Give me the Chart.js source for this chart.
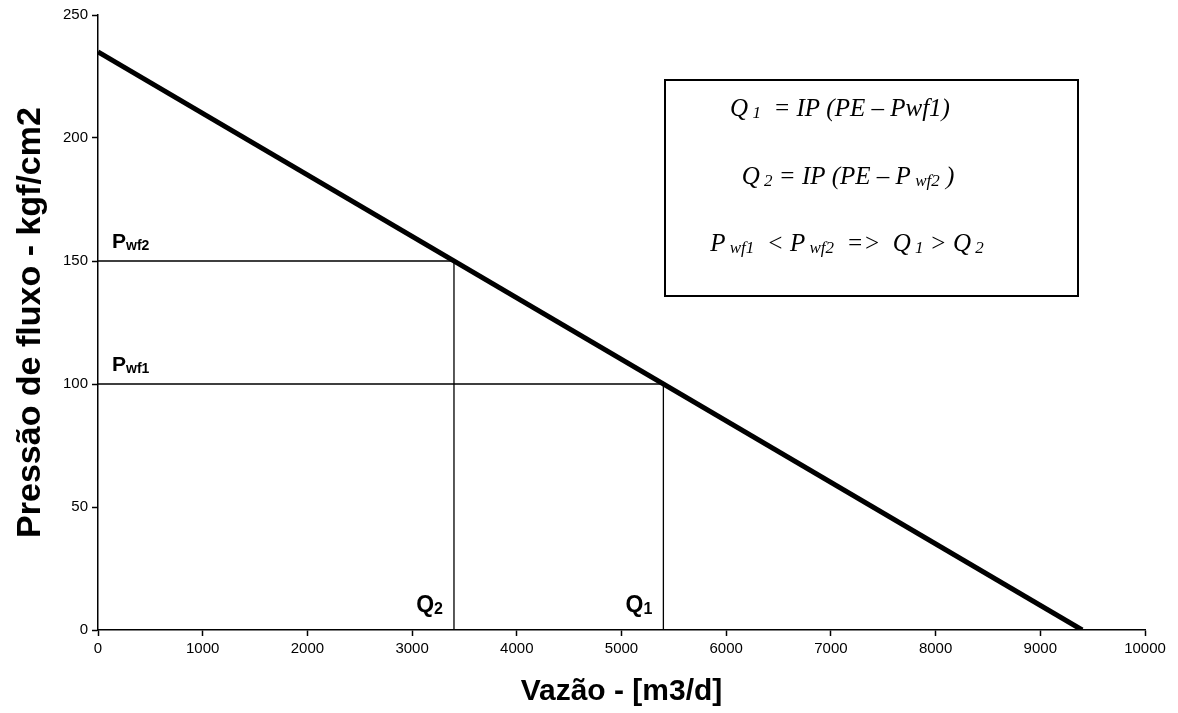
<!DOCTYPE html>
<html>
<head>
<meta charset="utf-8">
<script src="https://cdn.jsdelivr.net/npm/chart.js@4/dist/chart.umd.min.js"></script>
<style>
  html, body { margin: 0; padding: 0; background: #fff; }
  canvas { display: block; }
</style>
</head>
<body>
<canvas id="ipr" width="1178" height="713"></canvas>
<script>
// curva IPR (reta)
const iprFlow = [0, 9400];
const iprPressure = [235, 0];

// pontos de operacao
const opFlow = [5400, 3400];
const opPressure = [100, 150];
const opPLabels = ['wf1', 'wf2'];
const opQLabels = ['1', '2'];

const xMin = 0, xMax = 10000, xStep = 1000;
const yMin = 0, yMax = 250, yStep = 50;

// caixa de equacoes: cada linha e uma lista de [texto, subscrito?]
const boxLines = [
  [['Q', 0], [' 1', 1], ['  = IP (PE \u2013 Pwf1)', 0]],
  [['Q', 0], [' 2', 1], [' = IP (PE \u2013 P', 0], [' wf2', 1], [' )', 0]],
  [['P', 0], [' wf1', 1], ['  < P', 0], [' wf2', 1], ['  =>  Q', 0], [' 1', 1], [' > Q', 0], [' 2', 1]]
];

function toPoints(xs, ys) {
  return xs.map((x, i) => ({ x: x, y: ys[i] }));
}

const datasets = [{
  data: toPoints(iprFlow, iprPressure),
  showLine: true,
  borderColor: '#000',
  borderWidth: 5,
  pointRadius: 0
}];
for (let i = 0; i < opFlow.length; i++) {
  datasets.push({
    data: [{ x: 0, y: opPressure[i] }, { x: opFlow[i], y: opPressure[i] }, { x: opFlow[i], y: 0 }],
    showLine: true,
    borderColor: '#000',
    borderWidth: 1.3,
    pointRadius: 0
  });
}

function drawRich(ctx, parts, x, y, size, family, style, align) {
  const fonts = parts.map(p => style + ' ' + (p[1] ? Math.round(size * 0.68) : size) + 'px ' + family);
  let total = 0;
  const widths = parts.map((p, i) => { ctx.font = fonts[i]; const w = ctx.measureText(p[0]).width; total += w; return w; });
  let cx = align === 'center' ? x - total / 2 : (align === 'right' ? x - total : x);
  ctx.textAlign = 'left';
  ctx.textBaseline = 'alphabetic';
  parts.forEach((p, i) => {
    ctx.font = fonts[i];
    ctx.fillText(p[0], cx, y + (p[1] ? 2 : 0));
    cx += widths[i];
  });
}

const labelsPlugin = {
  id: 'labels',
  afterDatasetsDraw(chart) {
    const ctx = chart.ctx;
    const xs = chart.scales.x, ys = chart.scales.y;
    ctx.save();
    ctx.fillStyle = '#000';
    for (let i = 0; i < opFlow.length; i++) {
      drawRich(ctx, [['P', 0], [opPLabels[i], 1]],
        xs.getPixelForValue(0) + 14, ys.getPixelForValue(opPressure[i]) - 13, 21, '"Liberation Sans", Arial, sans-serif', 'bold', 'left');
      drawRich(ctx, [['Q', 0], [opQLabels[i], 1]],
        xs.getPixelForValue(opFlow[i]) - 11, ys.getPixelForValue(0) - 18, 23, '"Liberation Sans", Arial, sans-serif', 'bold', 'right');
    }
    // caixa
    const bx = 665, by = 80, bw = 413, bh = 216;
    ctx.lineWidth = 2;
    ctx.strokeStyle = '#000';
    ctx.strokeRect(bx, by, bw, bh);
    const baselines = [116, 184, 251];
    const centers = [840, 848, 847];
    boxLines.forEach((line, i) => {
      drawRich(ctx, line, centers[i], baselines[i], 25, '"Liberation Serif", "Times New Roman", serif', 'italic', 'center');
    });
    ctx.restore();
  }
};

const tickFont = { size: 15, family: '"Liberation Sans", Arial, sans-serif' };

new Chart(document.getElementById('ipr').getContext('2d'), {
  type: 'scatter',
  data: { datasets: datasets },
  plugins: [labelsPlugin],
  options: {
    responsive: false,
    animation: false,
    layout: { padding: { left: 0, right: 33, top: 15, bottom: 0 } },
    plugins: { legend: { display: false }, tooltip: { enabled: false } },
    scales: {
      x: {
        type: 'linear', min: xMin, max: xMax,
        ticks: { stepSize: xStep, color: '#000', padding: 4, maxRotation: 0, font: tickFont,
          callback: v => String(v) },
        grid: { drawOnChartArea: false, tickLength: 6, tickColor: '#000', tickWidth: 1.5 },
        border: { color: '#000', width: 1.5 },
        title: { display: true, text: 'Vaz\u00e3o - [m3/d]', color: '#000', padding: { top: 0, bottom: 3 },
          font: { size: 30, weight: 'bold', family: '"Liberation Sans", Arial, sans-serif' } },
        afterFit(s) { s.height = 83; }
      },
      y: {
        type: 'linear', min: yMin, max: yMax,
        ticks: { stepSize: yStep, color: '#000', padding: 4, font: tickFont,
          callback: v => String(v) },
        grid: { drawOnChartArea: false, tickLength: 6, tickColor: '#000', tickWidth: 1.5 },
        border: { color: '#000', width: 1.5 },
        title: { display: true, text: 'Press\u00e3o de fluxo - kgf/cm2', color: '#000', padding: { top: 10, bottom: 0 },
          font: { size: 34, weight: 'bold', family: '"Liberation Sans", Arial, sans-serif' } },
        afterFit(s) { s.width = 98; }
      }
    }
  }
});
</script>
</body>
</html>
